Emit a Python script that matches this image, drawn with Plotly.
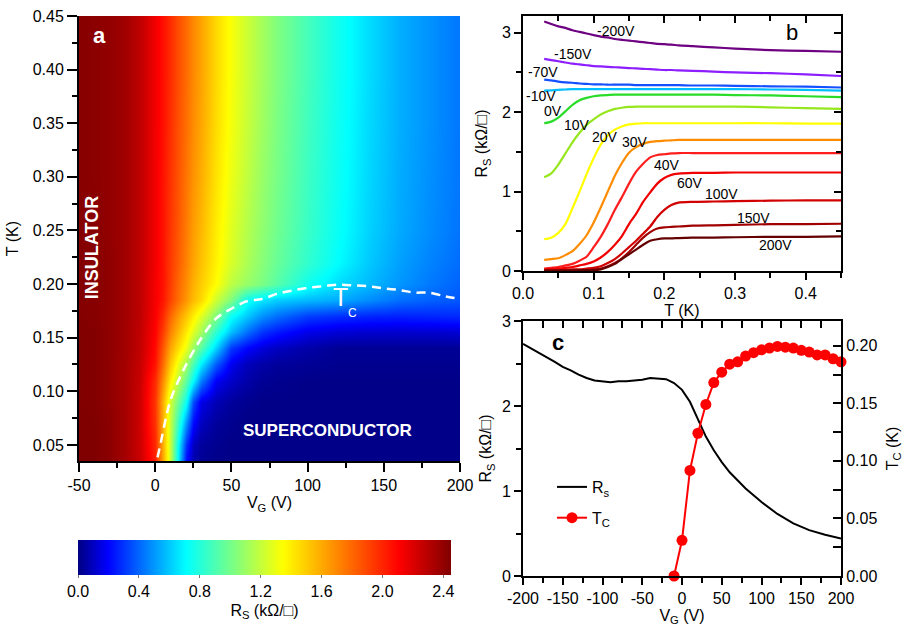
import plotly.graph_objects as go

W, H = 911, 626
FONT = "Arial, 'Liberation Sans', Helvetica, sans-serif"

# ---------------- panel a : R_S(V_G, T) map ----------------
map_V = [-51, -40, -30, -20, -10, 0, 5, 10, 15, 20, 25, 30, 40, 50, 60, 70, 80, 100, 120, 140, 160, 180, 201]
map_T = [0.033, 0.05, 0.07, 0.09, 0.11, 0.125, 0.14, 0.155, 0.17, 0.185, 0.20, 0.22, 0.25, 0.30, 0.35, 0.40, 0.452]
map_Rs = [
    [2.46, 2.45, 2.42, 2.35, 2.25, 2.02, 1.60, 1.22, 0.68, 0.22, 0.07, 0.03, 0.01, 0.01, 0.01, 0.01, 0.01, 0.01, 0.01, 0.01, 0.01, 0.01, 0.01],
    [2.46, 2.45, 2.42, 2.35, 2.24, 1.99, 1.58, 1.22, 0.72, 0.30, 0.10, 0.04, 0.02, 0.01, 0.01, 0.01, 0.01, 0.01, 0.01, 0.01, 0.01, 0.01, 0.01],
    [2.46, 2.45, 2.42, 2.35, 2.24, 1.96, 1.57, 1.22, 0.85, 0.50, 0.22, 0.10, 0.04, 0.02, 0.01, 0.01, 0.01, 0.01, 0.01, 0.01, 0.01, 0.01, 0.01],
    [2.45, 2.44, 2.41, 2.35, 2.24, 1.95, 1.58, 1.24, 0.98, 0.74, 0.35, 0.16, 0.08, 0.04, 0.02, 0.01, 0.01, 0.01, 0.01, 0.01, 0.01, 0.01, 0.01],
    [2.45, 2.44, 2.41, 2.35, 2.25, 1.98, 1.68, 1.40, 1.18, 0.95, 0.71, 0.45, 0.18, 0.11, 0.06, 0.03, 0.02, 0.01, 0.01, 0.01, 0.01, 0.01, 0.01],
    [2.45, 2.44, 2.41, 2.35, 2.26, 2.05, 1.78, 1.52, 1.30, 1.12, 0.90, 0.68, 0.38, 0.17, 0.09, 0.06, 0.04, 0.03, 0.02, 0.02, 0.02, 0.02, 0.02],
    [2.45, 2.44, 2.41, 2.36, 2.27, 2.08, 1.84, 1.62, 1.45, 1.30, 1.10, 0.93, 0.62, 0.31, 0.20, 0.14, 0.10, 0.06, 0.03, 0.03, 0.03, 0.03, 0.03],
    [2.45, 2.44, 2.41, 2.36, 2.27, 2.10, 1.92, 1.72, 1.56, 1.41, 1.27, 1.12, 0.82, 0.58, 0.42, 0.30, 0.24, 0.16, 0.13, 0.12, 0.12, 0.12, 0.13],
    [2.44, 2.43, 2.41, 2.36, 2.28, 2.12, 1.98, 1.80, 1.65, 1.52, 1.40, 1.27, 1.03, 0.73, 0.60, 0.49, 0.42, 0.32, 0.29, 0.27, 0.26, 0.27, 0.28],
    [2.44, 2.43, 2.41, 2.36, 2.28, 2.13, 2.04, 1.91, 1.78, 1.66, 1.55, 1.46, 1.22, 1.03, 0.74, 0.66, 0.61, 0.57, 0.54, 0.48, 0.42, 0.39, 0.37],
    [2.44, 2.43, 2.41, 2.36, 2.28, 2.13, 2.05, 1.93, 1.80, 1.69, 1.58, 1.50, 1.35, 1.18, 1.09, 1.02, 0.93, 0.75, 0.64, 0.57, 0.50, 0.44, 0.39],
    [2.44, 2.43, 2.41, 2.36, 2.28, 2.14, 2.05, 1.94, 1.83, 1.72, 1.62, 1.53, 1.38, 1.25, 1.14, 1.05, 0.97, 0.83, 0.71, 0.60, 0.52, 0.46, 0.41],
    [2.44, 2.43, 2.40, 2.36, 2.28, 2.14, 2.05, 1.95, 1.85, 1.74, 1.64, 1.56, 1.40, 1.27, 1.16, 1.07, 0.99, 0.85, 0.73, 0.62, 0.54, 0.48, 0.425],
    [2.43, 2.42, 2.40, 2.36, 2.28, 2.14, 2.05, 1.96, 1.86, 1.76, 1.67, 1.59, 1.43, 1.30, 1.19, 1.09, 1.01, 0.86, 0.74, 0.63, 0.545, 0.485, 0.43],
    [2.43, 2.42, 2.40, 2.36, 2.28, 2.14, 2.06, 1.97, 1.87, 1.78, 1.69, 1.61, 1.45, 1.32, 1.21, 1.11, 1.02, 0.87, 0.745, 0.635, 0.55, 0.49, 0.43],
    [2.43, 2.42, 2.40, 2.36, 2.28, 2.14, 2.06, 1.98, 1.88, 1.79, 1.70, 1.62, 1.46, 1.33, 1.22, 1.12, 1.03, 0.88, 0.75, 0.64, 0.55, 0.49, 0.43],
    [2.43, 2.42, 2.40, 2.36, 2.28, 2.14, 2.06, 1.98, 1.88, 1.79, 1.70, 1.62, 1.46, 1.33, 1.22, 1.12, 1.03, 0.88, 0.75, 0.64, 0.55, 0.49, 0.43],
]
cbar_ticks = [0.0, 0.4, 0.8, 1.2, 1.6, 2.0, 2.4]
a_xticks = [-50, 0, 50, 100, 150, 200]

# ---------------- panel b : R_S(T) curves ----------------
curve_T = [0.03, 0.04, 0.05, 0.06, 0.07, 0.08, 0.09, 0.10, 0.11, 0.12, 0.13, 0.14, 0.15,
           0.16, 0.17, 0.18, 0.19, 0.20, 0.21, 0.22, 0.24, 0.27, 0.30, 0.35, 0.40, 0.45]
rs_m200 = [3.14, 3.11, 3.08, 3.06, 3.03, 3.01, 2.99, 2.97, 2.95, 2.94, 2.92, 2.91, 2.90, 2.89, 2.88, 2.87, 2.86, 2.855, 2.85, 2.84, 2.83, 2.815, 2.80, 2.78, 2.77, 2.76]
rs_m150 = [2.67, 2.655, 2.64, 2.625, 2.61, 2.60, 2.59, 2.58, 2.575, 2.57, 2.565, 2.56, 2.555, 2.55, 2.545, 2.54, 2.535, 2.53, 2.53, 2.525, 2.52, 2.51, 2.50, 2.49, 2.475, 2.455]
rs_m70 = [2.41, 2.40, 2.385, 2.375, 2.37, 2.36, 2.355, 2.35, 2.35, 2.345, 2.345, 2.345, 2.345, 2.34, 2.34, 2.34, 2.34, 2.34, 2.34, 2.34, 2.335, 2.335, 2.33, 2.325, 2.32, 2.31]
rs_m10 = [2.27, 2.275, 2.28, 2.285, 2.29, 2.29, 2.29, 2.29, 2.29, 2.29, 2.29, 2.29, 2.29, 2.29, 2.29, 2.29, 2.29, 2.29, 2.29, 2.29, 2.29, 2.29, 2.29, 2.285, 2.28, 2.27]
rs_0 = [1.86, 1.88, 1.93, 2.01, 2.09, 2.15, 2.18, 2.20, 2.21, 2.215, 2.22, 2.22, 2.22, 2.22, 2.22, 2.22, 2.22, 2.22, 2.22, 2.22, 2.22, 2.22, 2.215, 2.21, 2.20, 2.19]
rs_10 = [1.18, 1.23, 1.34, 1.48, 1.62, 1.74, 1.84, 1.91, 1.97, 2.01, 2.04, 2.055, 2.065, 2.07, 2.07, 2.07, 2.07, 2.07, 2.07, 2.07, 2.07, 2.07, 2.07, 2.06, 2.05, 2.04]
rs_20 = [0.40, 0.42, 0.48, 0.59, 0.79, 1.00, 1.22, 1.42, 1.59, 1.71, 1.78, 1.82, 1.845, 1.855, 1.86, 1.86, 1.86, 1.86, 1.86, 1.86, 1.86, 1.86, 1.86, 1.86, 1.855, 1.855]
rs_30 = [0.14, 0.15, 0.16, 0.20, 0.25, 0.34, 0.45, 0.61, 0.80, 1.00, 1.20, 1.36, 1.49, 1.56, 1.60, 1.625, 1.635, 1.64, 1.645, 1.65, 1.65, 1.65, 1.65, 1.65, 1.65, 1.65]
rs_40 = [0.03, 0.04, 0.05, 0.07, 0.09, 0.13, 0.18, 0.30, 0.43, 0.59, 0.77, 0.93, 1.10, 1.25, 1.35, 1.43, 1.46, 1.47, 1.48, 1.485, 1.485, 1.485, 1.485, 1.485, 1.485, 1.485]
rs_60 = [0.02, 0.025, 0.03, 0.04, 0.05, 0.07, 0.09, 0.12, 0.17, 0.24, 0.33, 0.44, 0.59, 0.72, 0.87, 0.99, 1.10, 1.17, 1.21, 1.225, 1.235, 1.235, 1.24, 1.24, 1.24, 1.24]
rs_100 = [0.01, 0.01, 0.01, 0.015, 0.02, 0.02, 0.03, 0.04, 0.06, 0.10, 0.15, 0.22, 0.30, 0.38, 0.47, 0.56, 0.68, 0.77, 0.83, 0.86, 0.87, 0.875, 0.88, 0.885, 0.89, 0.89]
rs_150 = [0.005, 0.005, 0.005, 0.005, 0.01, 0.01, 0.01, 0.02, 0.03, 0.06, 0.10, 0.16, 0.24, 0.33, 0.42, 0.49, 0.535, 0.55, 0.555, 0.56, 0.57, 0.575, 0.58, 0.59, 0.59, 0.595]
rs_200 = [0.005, 0.005, 0.005, 0.005, 0.005, 0.01, 0.01, 0.01, 0.02, 0.05, 0.09, 0.15, 0.21, 0.27, 0.33, 0.38, 0.40, 0.41, 0.41, 0.415, 0.42, 0.42, 0.425, 0.43, 0.43, 0.435]
curve_names = ["-200V", "-150V", "-70V", "-10V", "0V", "10V", "20V", "30V", "40V", "60V", "100V", "150V", "200V"]
curve_data = [rs_m200, rs_m150, rs_m70, rs_m10, rs_0, rs_10, rs_20, rs_30, rs_40, rs_60, rs_100, rs_150, rs_200]
curve_colors = ["rgb(110,0,130)", "rgb(140,30,255)", "rgb(20,80,255)", "rgb(0,190,255)",
                "rgb(40,220,40)", "rgb(150,230,30)", "rgb(255,255,0)", "rgb(255,140,0)",
                "rgb(255,30,30)", "rgb(240,0,0)", "rgb(210,0,0)", "rgb(160,0,0)", "rgb(100,0,0)"]
label_T = [0.131, 0.071, 0.029, 0.026, 0.042, 0.077, 0.116, 0.159, 0.204, 0.236, 0.281, 0.326, 0.357]
label_R = [3.02, 2.73, 2.51, 2.20, 2.01, 1.84, 1.69, 1.62, 1.33, 1.11, 0.965, 0.67, 0.33]

# ---------------- panel c : R_S(V_G) and T_C(V_G) ----------------
rs_V = [-200, -190, -180, -170, -160, -150, -140, -130, -120, -110, -100, -90, -80, -70, -60, -50,
        -40, -30, -20, -10, 0, 10, 20, 30, 40, 50, 60, 70, 80, 90, 100, 120, 140, 160, 180, 200]
rs_k = [2.73, 2.68, 2.63, 2.58, 2.52, 2.46, 2.42, 2.37, 2.33, 2.30, 2.29, 2.28, 2.29, 2.29, 2.30, 2.31,
        2.33, 2.32, 2.315, 2.27, 2.19, 2.05, 1.84, 1.64, 1.48, 1.34, 1.22, 1.12, 1.03, 0.95, 0.87,
        0.73, 0.62, 0.54, 0.485, 0.44]
tc_V = [-10, 0, 10, 20, 30, 40, 50, 60, 70, 80, 90, 100, 110, 120, 130, 140, 150, 160, 170, 180, 190, 200]
tc_K = [0.000, 0.031, 0.0917, 0.124, 0.149, 0.168, 0.177, 0.184, 0.186, 0.191, 0.194, 0.1965,
        0.198, 0.1994, 0.1988, 0.198, 0.196, 0.1945, 0.192, 0.192, 0.1887, 0.186]
c_xticks = [-200, -150, -100, -50, 0, 50, 100, 150, 200]

colorscale = [[0.0, "rgb(0,0,130)"], [0.08, "rgb(0,0,255)"], [0.29, "rgb(0,255,255)"],
              [0.55, "rgb(255,255,0)"], [0.86, "rgb(255,0,0)"], [1.0, "rgb(128,0,0)"]]


def px(p):
    return p / W


def py(p):
    return 1 - p / H


fig = go.Figure()

fig.add_trace(go.Heatmap(
    x=map_V, y=map_T, z=map_Rs, zmin=0, zmax=2.45, colorscale=colorscale, zsmooth="best",
    xaxis="x", yaxis="y", hoverinfo="skip",
    colorbar=dict(orientation="h", x=px(78), xanchor="left", y=py(540), yanchor="top",
                  len=373, lenmode="pixels", thickness=35, thicknessmode="pixels",
                  outlinewidth=0, xpad=0, ypad=0,
                  tickvals=cbar_ticks, ticktext=[f"{v:.1f}" for v in cbar_ticks],
                  ticks="outside", ticklen=3, tickcolor="#777",
                  tickfont=dict(size=16, color="black", family=FONT),
                  title=dict(text="R<sub>S</sub> (kΩ/□)", side="bottom",
                             font=dict(size=16, color="black", family=FONT))),
))

fig.add_trace(go.Scatter(
    x=tc_V, y=tc_K, mode="lines", xaxis="x", yaxis="y", showlegend=False, hoverinfo="skip",
    line=dict(color="white", width=2.5, dash="9px,6px", shape="spline", smoothing=0.8),
))

for name, data, col in zip(curve_names, curve_data, curve_colors):
    fig.add_trace(go.Scatter(
        x=curve_T, y=data, mode="lines", xaxis="x2", yaxis="y2", showlegend=False,
        line=dict(color=col, width=2.2, shape="spline", smoothing=0.6), name=name,
    ))

fig.add_trace(go.Scatter(
    x=rs_V, y=rs_k, mode="lines", xaxis="x3", yaxis="y3", name="R<sub>s</sub>",
    legendgroup="a", line=dict(color="black", width=2),
))
fig.add_trace(go.Scatter(
    x=tc_V, y=tc_K, mode="lines+markers", xaxis="x3", yaxis="y4", name="T<sub>C</sub>",
    legendgroup="b", line=dict(color="rgb(255,0,0)", width=2), cliponaxis=False,
    marker=dict(color="rgb(255,0,0)", size=11),
))

fig.add_trace(go.Scatter(x=[], y=[], xaxis="x4", yaxis="y2", showlegend=False))
fig.add_trace(go.Scatter(x=[], y=[], xaxis="x2", yaxis="y5", showlegend=False))
fig.add_trace(go.Scatter(x=[], y=[], xaxis="x5", yaxis="y3", showlegend=False))

tickfont = dict(size=16, color="black", family=FONT)
titlefont = dict(size=16, color="black", family=FONT)
base = dict(showgrid=False, zeroline=False, tickcolor="black", tickwidth=1.5,
            linecolor="black", linewidth=2, tickfont=tickfont, automargin=False)

bx = [px(523), px(841)]

fig.update_layout(
    width=W, height=H, margin=dict(l=0, r=0, t=0, b=0, autoexpand=False), autosize=False,
    paper_bgcolor="white", plot_bgcolor="white",
    font=dict(family=FONT, size=16, color="black"),
    xaxis=dict(base, domain=[px(79), px(460)], range=[-50, 200], anchor="y",
               tickvals=a_xticks, ticktext=[str(v) for v in a_xticks], ticks="outside", ticklen=9, showline=True,
               minor=dict(dtick=25, tick0=-50, ticks="outside", ticklen=5, tickcolor="black", tickwidth=1.5),
               title=dict(text="V<sub>G</sub> (V)", font=titlefont, standoff=4)),
    yaxis=dict(base, domain=[py(461), py(16)], range=[0.035, 0.45], anchor="x",
               tickmode="linear", tick0=0.05, dtick=0.05, tickformat=".2f", ticks="outside",
               ticklen=10, showline=True,
               minor=dict(dtick=0.025, tick0=0.05, ticks="outside", ticklen=5, tickcolor="black", tickwidth=1.5),
               title=dict(text="T (K)", font=titlefont, standoff=10)),
    xaxis2=dict(base, domain=bx, range=[0, 0.45], anchor="y2", mirror=True, showline=True,
                tickmode="linear", tick0=0, dtick=0.1, tickformat=".1f", ticks="outside", ticklen=7,
                minor=dict(dtick=0.05, tick0=0, ticks="outside", ticklen=5, tickcolor="black", tickwidth=1.5),
                title=dict(text="T (K)", font=titlefont, standoff=2)),
    yaxis2=dict(base, domain=[py(271), py(16)], range=[0, 3.21], anchor="x2", mirror=True,
                showline=True, tickmode="linear", tick0=0, dtick=1, ticks="outside", ticklen=7,
                minor=dict(dtick=0.5, tick0=0, ticks="outside", ticklen=5, tickcolor="black", tickwidth=1.5),
                title=dict(text="R<sub>S</sub> (kΩ/□)", font=titlefont, standoff=10)),
    xaxis4=dict(base, overlaying="x2", side="top", anchor="y2", range=[0, 0.45], showline=False,
                tickmode="linear", tick0=0, dtick=0.1, ticks="inside", ticklen=7, showticklabels=False,
                minor=dict(dtick=0.05, tick0=0, ticks="inside", ticklen=5, tickcolor="black", tickwidth=1.5)),
    yaxis5=dict(base, overlaying="y2", side="right", anchor="x2", range=[0, 3.21], showline=False,
                tickmode="linear", tick0=0, dtick=1, ticks="inside", ticklen=7, showticklabels=False,
                minor=dict(dtick=0.5, tick0=0, ticks="inside", ticklen=5, tickcolor="black", tickwidth=1.5)),
    xaxis3=dict(base, domain=bx, range=[-200, 200], anchor="y3", mirror=True, showline=True,
                tickvals=c_xticks, ticktext=[str(v) for v in c_xticks], ticks="outside", ticklen=7,
                minor=dict(dtick=25, tick0=-200, ticks="outside", ticklen=5, tickcolor="black", tickwidth=1.5),
                title=dict(text="V<sub>G</sub> (V)", font=titlefont, standoff=4)),
    yaxis3=dict(base, domain=[py(576), py(321)], range=[0, 3], anchor="x3", mirror=True,
                showline=True, tickmode="linear", tick0=0, dtick=1, ticks="outside", ticklen=7,
                minor=dict(dtick=0.5, tick0=0, ticks="outside", ticklen=5, tickcolor="black", tickwidth=1.5),
                title=dict(text="R<sub>S</sub> (kΩ/□)", font=titlefont, standoff=6)),
    yaxis4=dict(base, overlaying="y3", side="right", anchor="x3", range=[0, 0.2215], showline=True,
                tickmode="linear", tick0=0, dtick=0.05, tickformat=".2f", ticks="inside", ticklen=8,
                minor=dict(dtick=0.025, tick0=0, ticks="inside", ticklen=8, tickcolor="black", tickwidth=1.5),
                title=dict(text="T<sub>C</sub> (K)", font=titlefont, standoff=10)),
    xaxis5=dict(base, overlaying="x3", side="top", anchor="y3", range=[-200, 200], showline=False,
                tickmode="linear", tick0=-200, dtick=50, ticks="inside", ticklen=7, showticklabels=False,
                minor=dict(dtick=25, tick0=-200, ticks="inside", ticklen=7, tickcolor="black", tickwidth=1.5)),
    legend=dict(x=px(552), y=py(470), xanchor="left", yanchor="top", bgcolor="rgba(0,0,0,0)",
                font=dict(size=16, family=FONT, color="black"), tracegroupgap=7, itemwidth=30),
    showlegend=True,
)

C = dict(xanchor="center", yanchor="middle", showarrow=False)
ann = []
ann.append(dict(C, text="<b>a</b>", x=px(99), y=py(35), xref="paper", yref="paper",
                font=dict(size=22, color="white", family=FONT)))
ann.append(dict(C, text="b", x=px(792), y=py(33), xref="paper", yref="paper",
                font=dict(size=22, color="black", family=FONT)))
ann.append(dict(C, text="<b>c</b>", x=px(558), y=py(342), xref="paper", yref="paper",
                font=dict(size=22, color="black", family=FONT)))
ann.append(dict(C, text="<b>INSULATOR</b>", x=px(92.7), y=py(247.5), xref="paper", yref="paper",
                textangle=-90, font=dict(size=18, color="white", family=FONT)))
ann.append(dict(C, text="<b>SUPERCONDUCTOR</b>", x=px(327), y=py(430), xref="paper", yref="paper",
                font=dict(size=17, color="white", family=FONT)))
ann.append(dict(C, text="T", x=px(340), y=py(297), xref="paper", yref="paper",
                font=dict(size=25, color="white", family=FONT)))
ann.append(dict(C, text="C", x=px(352), y=py(312.5), xref="paper", yref="paper",
                font=dict(size=12, color="white", family=FONT)))
for name, tx, ry in zip(curve_names, label_T, label_R):
    ann.append(dict(C, text=name, x=tx, y=ry, xref="x2", yref="y2",
                    font=dict(size=14, color="black", family=FONT)))
fig.update_layout(annotations=ann)

fig.write_html(
    "out.html",
    config={"displayModeBar": False},
    post_script="document.body.style.margin='0px';document.body.style.overflow='hidden';",
)
